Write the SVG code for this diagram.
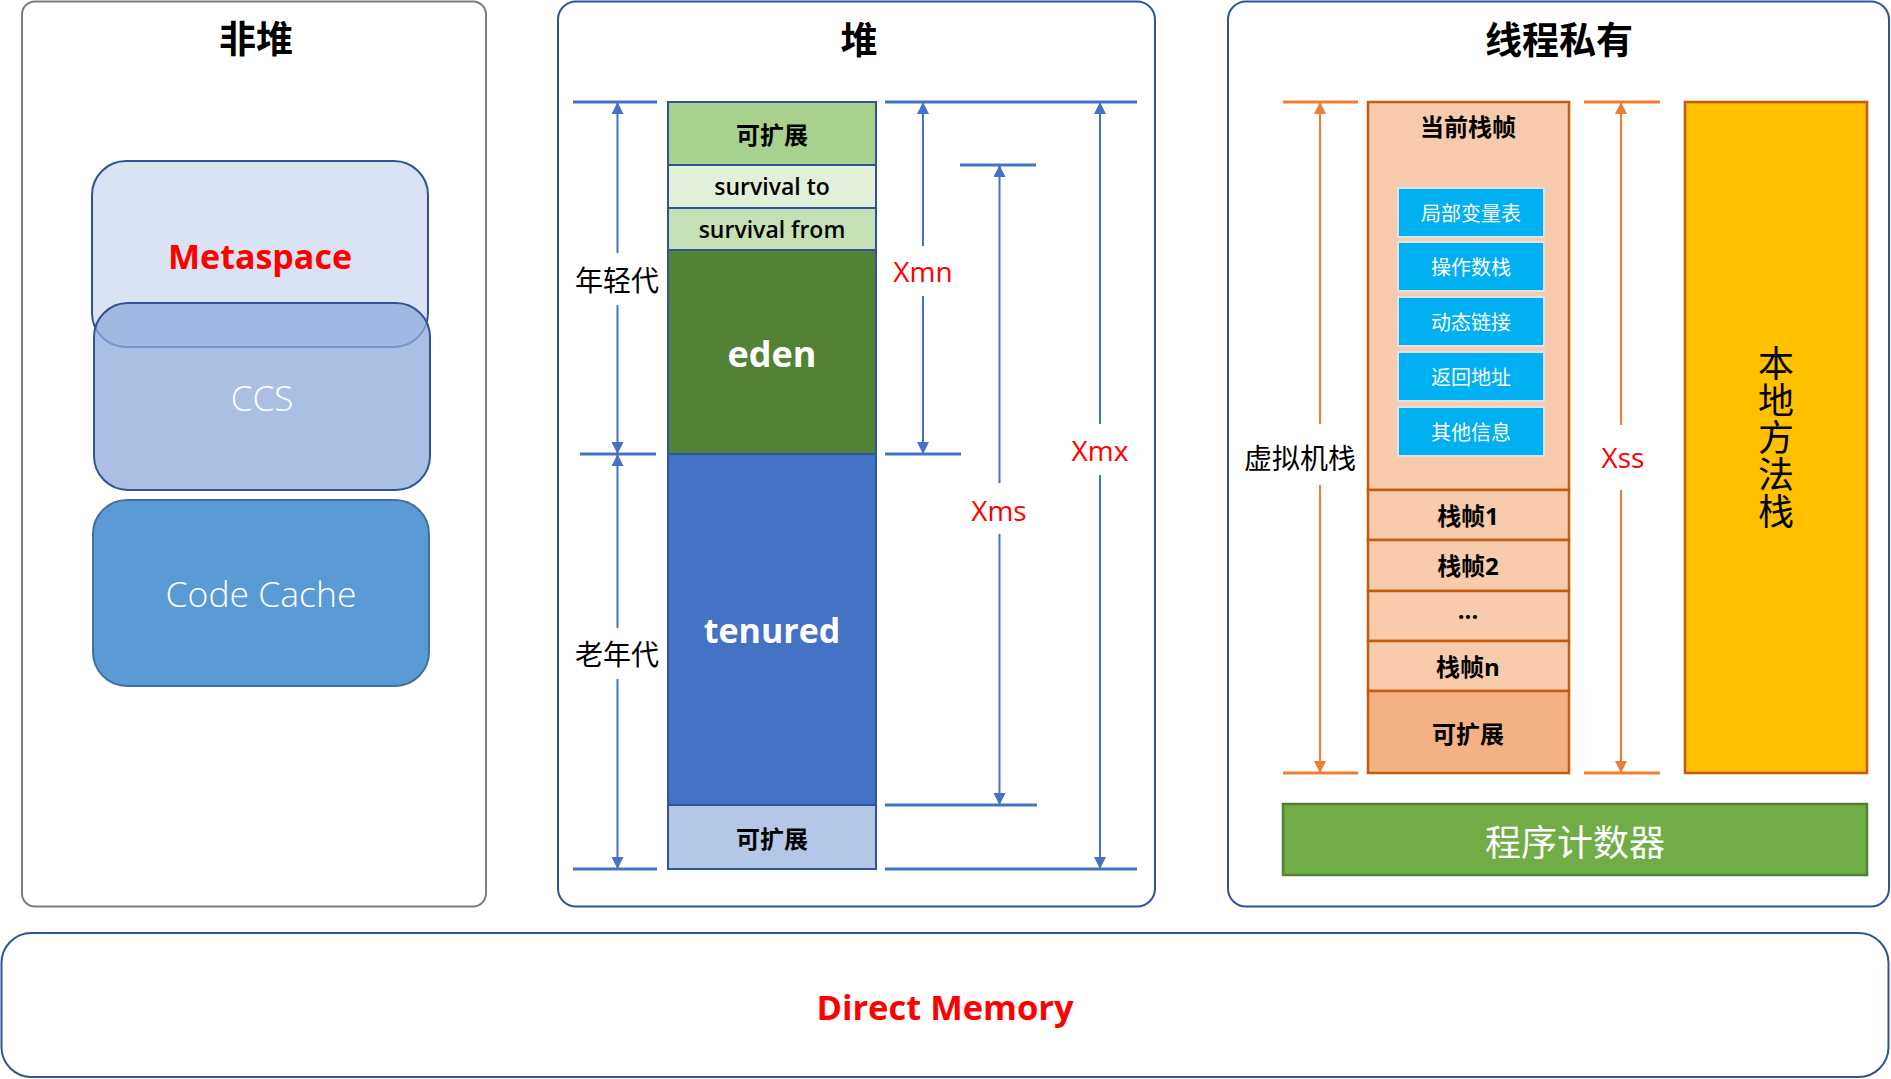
<svg xmlns="http://www.w3.org/2000/svg" width="1891" height="1079" viewBox="0 0 1891 1079">
<defs>
<style>
text{font-family:"Open Sans","Noto Sans CJK SC",sans-serif;text-anchor:middle;dominant-baseline:central;fill:#000}
.cjk{font-family:"Noto Sans CJK SC",sans-serif}
.b{font-weight:bold}
.title{font-family:"Noto Sans CJK SC",sans-serif;font-weight:bold;font-size:37px}
.red{fill:#ff0000}
.w{fill:#fff}
.lbl{font-family:"Noto Sans CJK SC",sans-serif;font-size:28px}
.xl{font-size:28px;fill:#ff0000}
.bl{stroke:#4472c4;stroke-width:3}
.ba{stroke:#4472c4;stroke-width:2;marker-end:url(#ab)}
.ol{stroke:#ed7d31;stroke-width:3}
.oa{stroke:#ed7d31;stroke-width:2;marker-end:url(#ao)}
.heap{stroke:#2f5597;stroke-width:2}
.stk{stroke:#c55a11;stroke-width:2.5}
.frame{fill:#00b0f0;stroke:#dae3f3;stroke-width:2}
.panel{fill:none;stroke:#2f5597;stroke-width:2}
.cell{font-size:24px;font-weight:bold}
.fr{font-family:"Noto Sans CJK SC",sans-serif;font-size:20px;fill:#fff}
</style>
<marker id="ab" viewBox="0 0 12 12" refX="12" refY="6" markerWidth="12" markerHeight="12" markerUnits="userSpaceOnUse" orient="auto"><path d="M0,0L12,6L0,12z" fill="#4472c4"/></marker>
<marker id="ao" viewBox="0 0 12 12" refX="12" refY="6" markerWidth="12" markerHeight="12" markerUnits="userSpaceOnUse" orient="auto"><path d="M0,0L12,6L0,12z" fill="#ed7d31"/></marker>
</defs>
<rect width="1891" height="1079" fill="#fff"/>

<g id="non-heap">
<rect x="22" y="1.5" width="464" height="905" rx="13" fill="#fff" stroke="#7f7f7f" stroke-width="2"/>
<text class="title" x="256" y="37">非堆</text>
</g>
<g id="metaspace">
<rect x="92" y="161" width="336" height="186" rx="34" fill="#dae3f3" stroke="#2f5597" stroke-width="2"/>
<text class="b red" x="260" y="256" font-size="34">Metaspace</text>
</g>
<g id="ccs">
<rect x="94" y="303" width="336" height="187" rx="34" fill="#8faadc" fill-opacity="0.75" stroke="#2f5597" stroke-width="2"/>
<text class="w" x="262" y="397" font-size="35" font-weight="300">CCS</text>
</g>
<g id="code-cache">
<rect x="93" y="500" width="336" height="186" rx="34" fill="#5b9bd5" stroke="#41719c" stroke-width="2"/>
<text class="w" x="261" y="593" font-size="35.5" font-weight="300">Code Cache</text>
</g>

<g id="heap">
<rect class="panel" x="558" y="1.5" width="597" height="905" rx="18"/>
<text class="title" x="859" y="38">堆</text>
</g>
<g id="heap-expand-top">
<rect class="heap" x="668" y="102" width="208" height="63" fill="#a9d18e"/>
<text class="cell cjk" x="772" y="133">可扩展</text>
</g>
<g id="survival-to">
<rect class="heap" x="668" y="165" width="208" height="43" fill="#e2f0d9"/>
<text x="772" y="186" font-size="23" font-weight="600">survival to</text>
</g>
<g id="survival-from">
<rect class="heap" x="668" y="208" width="208" height="42" fill="#c5e0b4"/>
<text x="772" y="229" font-size="23" font-weight="600">survival from</text>
</g>
<g id="eden">
<rect class="heap" x="668" y="250" width="208" height="204" fill="#548235"/>
<text class="w b" x="772" y="353" font-size="36">eden</text>
</g>
<g id="tenured">
<rect class="heap" x="668" y="454" width="208" height="351" fill="#4472c4"/>
<text class="w b" x="772" y="630" font-size="34">tenured</text>
</g>
<g id="heap-expand-bottom">
<rect class="heap" x="668" y="805" width="208" height="64" fill="#b4c7e7"/>
<text class="cell cjk" x="772" y="837">可扩展</text>
</g>
<g id="heap-labels">
<text class="lbl" x="617" y="279">年轻代</text>
<text class="lbl" x="617" y="653">老年代</text>
<text class="xl" x="923" y="271">Xmn</text>
<text class="xl" x="999" y="510">Xms</text>
<text class="xl" x="1100" y="450">Xmx</text>
</g>

<g id="thread-private">
<rect class="panel" x="1228" y="1.5" width="661" height="905" rx="18"/>
<text class="title" x="1559" y="38">线程私有</text>
</g>
<g id="vm-stack">
<rect class="stk" x="1368" y="102" width="201" height="388" fill="#f8cbad"/>
<text class="cell cjk" x="1468" y="125">当前栈帧</text>
<rect class="frame" x="1398" y="188" width="146" height="49"/>
<text class="fr" x="1471" y="212">局部变量表</text>
<rect class="frame" x="1398" y="242" width="146" height="49"/>
<text class="fr" x="1471" y="266">操作数栈</text>
<rect class="frame" x="1398" y="297" width="146" height="49"/>
<text class="fr" x="1471" y="321">动态链接</text>
<rect class="frame" x="1398" y="352" width="146" height="49"/>
<text class="fr" x="1471" y="376">返回地址</text>
<rect class="frame" x="1398" y="407" width="146" height="49"/>
<text class="fr" x="1471" y="431">其他信息</text>
<rect class="stk" x="1368" y="490" width="201" height="50" fill="#f8cbad"/>
<text class="cell" x="1468" y="515">栈帧1</text>
<rect class="stk" x="1368" y="540" width="201" height="51" fill="#f8cbad"/>
<text class="cell" x="1468" y="565">栈帧2</text>
<rect class="stk" x="1368" y="591" width="201" height="50" fill="#f8cbad"/>
<text class="cell" x="1468" y="609">...</text>
<rect class="stk" x="1368" y="641" width="201" height="50" fill="#f8cbad"/>
<text class="cell" x="1468" y="666">栈帧n</text>
<rect class="stk" x="1368" y="691" width="201" height="82" fill="#f4b183"/>
<text class="cell cjk" x="1468" y="732">可扩展</text>
</g>
<g id="native-stack">
<rect class="stk" x="1685" y="102" width="182" height="671" fill="#ffc000"/>
<text class="cjk" x="1776" y="438" font-size="36" writing-mode="vertical-rl" letter-spacing="1">本地方法栈</text>
</g>
<g id="program-counter">
<rect x="1283" y="804" width="584" height="71" fill="#70ad47" stroke="#538135" stroke-width="2.5"/>
<text class="cjk w" x="1575" y="840" font-size="36">程序计数器</text>
</g>
<g id="thread-labels">
<text class="lbl" x="1300" y="457">虚拟机栈</text>
<text class="xl" x="1623" y="457">Xss</text>
</g>

<g id="direct-memory">
<rect class="panel" x="1.5" y="933" width="1887" height="144" rx="30"/>
<text class="b red" x="945" y="1006" font-size="34.5">Direct Memory</text>
</g>

<g id="connectors">
<line class="bl" x1="573" y1="102" x2="657" y2="102"/>
<line class="bl" x1="580" y1="454" x2="656" y2="454"/>
<line class="bl" x1="573" y1="869" x2="657" y2="869"/>
<line class="bl" x1="885" y1="102" x2="1137" y2="102"/>
<line class="bl" x1="885" y1="454" x2="961" y2="454"/>
<line class="bl" x1="960" y1="165" x2="1036" y2="165"/>
<line class="bl" x1="885" y1="805" x2="1037" y2="805"/>
<line class="bl" x1="885" y1="869" x2="1137" y2="869"/>
<line class="ba" x1="617.5" y1="253" x2="617.5" y2="102"/>
<line class="ba" x1="617.5" y1="305" x2="617.5" y2="454"/>
<line class="ba" x1="617.5" y1="628" x2="617.5" y2="454"/>
<line class="ba" x1="617.5" y1="679" x2="617.5" y2="869"/>
<line class="ba" x1="923" y1="246" x2="923" y2="102"/>
<line class="ba" x1="923" y1="296" x2="923" y2="454"/>
<line class="ba" x1="999.5" y1="483" x2="999.5" y2="165"/>
<line class="ba" x1="999.5" y1="534" x2="999.5" y2="805"/>
<line class="ba" x1="1100" y1="424" x2="1100" y2="102"/>
<line class="ba" x1="1100" y1="475" x2="1100" y2="869"/>
<line class="ol" x1="1283" y1="102" x2="1358" y2="102"/>
<line class="ol" x1="1283" y1="773" x2="1358" y2="773"/>
<line class="ol" x1="1584" y1="102" x2="1660" y2="102"/>
<line class="ol" x1="1584" y1="773" x2="1660" y2="773"/>
<line class="oa" x1="1320" y1="424" x2="1320" y2="102"/>
<line class="oa" x1="1320" y1="485" x2="1320" y2="773"/>
<line class="oa" x1="1621" y1="425" x2="1621" y2="102"/>
<line class="oa" x1="1621" y1="490" x2="1621" y2="773"/>
</g>
</svg>
